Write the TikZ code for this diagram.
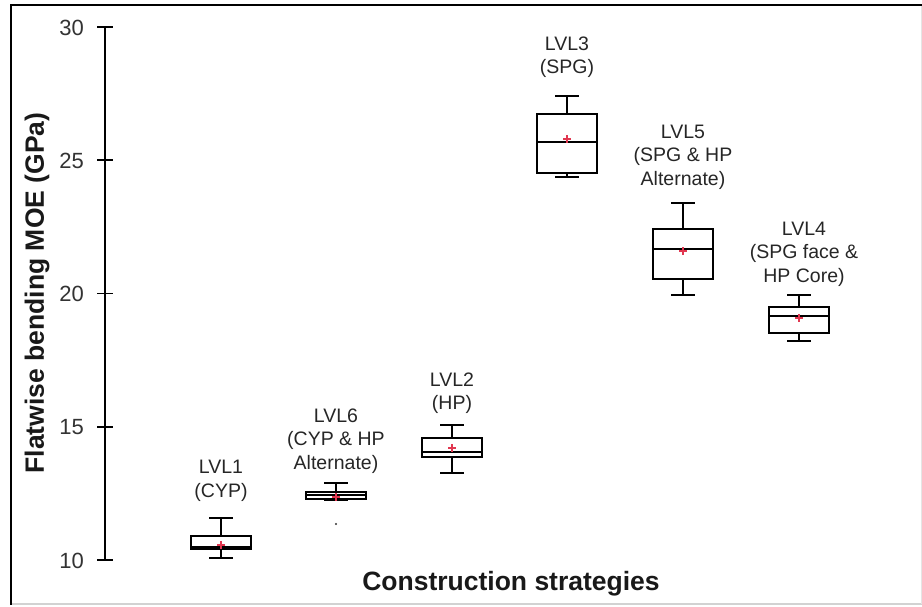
\documentclass[tikz,border=0pt]{standalone}
\usepackage{fontspec}
\setmainfont{Liberation Sans}
\definecolor{meanred}{RGB}{225,55,80}
\newcommand{\bxplot}[8]{%
  \draw[wk] (#2,#3) -- (#2,#4);
  \draw[wk] (#2-12,#3) -- (#2+12,#3);
  \draw[wk] (#2,#6) -- (#2,#7);
  \draw[wk] (#2-12,#7) -- (#2+12,#7);
  \draw[bx] (#2-30,#4) rectangle (#2+30,#6);
  \draw[wk] (#2-30,#5) -- (#2+30,#5);
  \draw[mn] (#2-4,#8) -- (#2+4,#8) (#2,#8-4) -- (#2,#8+4);
  \coordinate (#1) at (#2,#4);
}
\begin{document}
\begin{tikzpicture}[x=1pt,y=-1pt,
  bx/.style={draw=black, line width=1.9pt},
  wk/.style={draw=black, line width=1.9pt},
  mn/.style={draw=meanred, line width=1.4pt},
  lbl/.style={font=\fontsize{19.5}{23.5}\selectfont, align=center, text=black!85, inner sep=0pt},
  tl/.style={font=\fontsize{22}{26}\selectfont, anchor=base east, inner sep=0pt, text=black!80},
  ttl/.style={font=\bfseries\fontsize{26.5}{32}\selectfont, inner sep=0pt, text=black!90},
  tick/.style={draw=black, line width=1.9pt}]
\useasboundingbox (0,0) rectangle (922,606);
\fill[white] (0,0) rectangle (922,606);
% frame
\draw[gray!35, line width=1.5pt] (11,604) -- (922,604);
\draw[gray!20, line width=1pt] (921,5) -- (921,604);
\draw[black, line width=2.5pt] (10,5) -- (922,5);
\draw[black, line width=2.5pt] (11,4) -- (11,605);
% axis
\coordinate (ytop) at (105,27);
\coordinate (ybot) at (105,560);
\draw[tick] (ytop) -- (ybot);
\foreach \v/\yy in {30/27,25/160.25,20/293.5,15/426.75,10/560}{
  \draw[tick] (97,\yy) -- (113,\yy);
  \node[tl] (t\v) at (84,\yy+8) {\v};
}
\node[ttl, rotate=90] (ylab) at (37,293) {Flatwise bending MOE (GPa)};
\node[ttl, anchor=base] (xlab) at (511,590) {Construction strategies};
% boxes
\bxplot{b1}{221}{518}{536}{547}{549}{558}{545}
\bxplot{b6}{336}{483}{492}{495}{499}{500}{497}
\bxplot{b2}{452}{425}{438}{452}{457}{473}{448}
\bxplot{b3}{567}{96}{114}{142}{173}{177}{139}
\bxplot{b5}{683}{203}{229}{249}{279}{295}{251}
\bxplot{b4}{799}{295}{307}{316}{333}{341}{318}
\fill[black!80] (336,524) circle (1.2pt);
% labels
\node[lbl] (l1) at (221,481) {LVL1\\(CYP)};
\node[lbl] (l6) at (336,441) {LVL6\\(CYP \& HP\\Alternate)};
\node[lbl] (l2) at (452,393) {LVL2\\(HP)};
\node[lbl] (l3) at (567,57) {LVL3\\(SPG)};
\node[lbl] (l5) at (683,157) {LVL5\\(SPG \& HP\\Alternate)};
\node[lbl] (l4) at (804,254) {LVL4\\(SPG face \&\\HP Core)};
\end{tikzpicture}
\end{document}
